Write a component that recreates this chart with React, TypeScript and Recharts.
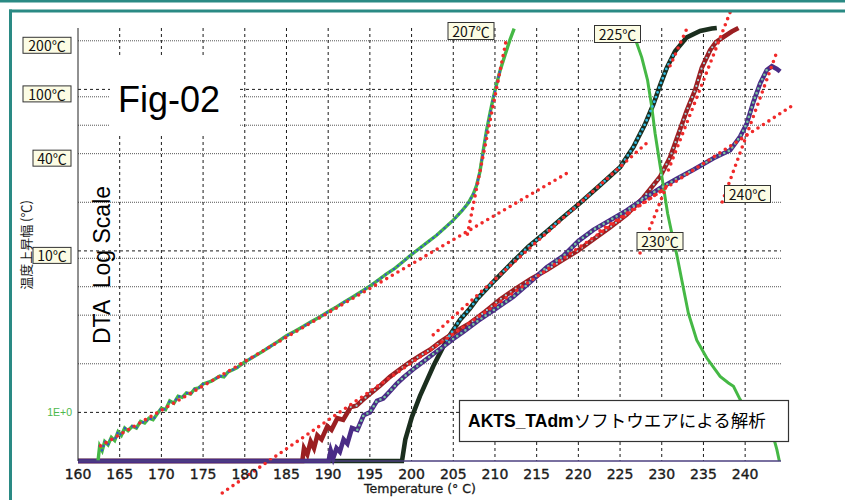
import { LineChart, Line, XAxis, YAxis, CartesianGrid, ReferenceLine } from 'recharts'

// temperature (°C) vs DTA temperature rise (°C, log)
const greenRise = [
  [162.4,0.5],[162.6,0.62],[162.9,0.58],[163.2,0.66],[163.6,0.63],[164.0,0.7],[164.4,0.67],[164.8,0.76],
  [165.2,0.72],[165.6,0.8],[166.0,0.77],[166.5,0.82],[167.0,0.8],[167.5,0.88],[168.0,0.86],[168.5,0.92],
  [169.0,0.9],[169.5,0.98],[170.0,1.06],[170.5,1.04],[171.0,1.18],[171.5,1.14],[172.0,1.26],[172.5,1.24],
  [173.0,1.32],[173.5,1.3],[174.0,1.4],[174.5,1.42],[175.0,1.5],[176.0,1.56],[177.0,1.68],[177.5,1.66],
  [178.0,1.78],[179.0,1.88],[180.0,2.05],[181.0,2.2],[182.0,2.36],[183.0,2.55],[184.0,2.75],[185.0,2.98],
  [186.0,3.18],[187.0,3.4],[188.0,3.65],[189.0,3.9],[190.0,4.2],[191.0,4.5],[192.0,4.85],[193.0,5.2],
  [194.0,5.6],[195.0,6.05],[196.0,6.6],[197.0,7.2],[198.0,7.8],[199.0,8.6],[200.0,9.5],[201.0,10.4],
  [202.0,11.4],[203.0,12.5],[204.0,13.9],[205.0,15.5],[206.0,17.6],[206.8,19.8],[207.4,22.5],[207.8,25.5],
  [208.2,31],[208.6,42],[209.0,56],[209.4,71],[209.8,89],[210.2,108],[210.6,130],[211.2,163],[211.8,203],[212.3,238],
]

const greenFall = [
  [226.3,240],[226.9,200],[227.6,158],[228.3,114],[228.8,78],[229.2,53.5],[229.7,36.6],[230.2,25],
  [230.7,17.1],[231.2,12.9],[231.8,9.5],[232.4,6.6],[233.2,4.1],[234.2,2.8],[235.4,2.17],[237.0,1.67],
  [238.0,1.52],[238.6,1.45],[239.4,1.2],[240.5,0.98],[241.5,0.85],[242.5,0.76],[243.4,0.7],[243.8,0.59],[244.1,0.5],
]

const blackRun = [
  [160,0.5],[198.85,0.5],[199.25,0.68],[200.05,0.94],[201.0,1.26],[202.6,1.93],[204.2,2.8],[205.8,3.74],
  [207.0,4.4],[207.8,5.0],[210,6.6],[212.2,8.6],[214,10.6],[216.2,13.2],[218,15.9],[220.2,19.8],[222.6,25.5],
  [225,33],[226.6,44],[228,61],[229,81],[229.8,106],[230.6,136],[231.6,172],[233,210],[234.6,230],[236,238],[236.6,240],
]

const redRun = [
  [160,0.5],[186.9,0.5],[187.1,0.6],[187.5,0.55],[187.9,0.66],[188.3,0.6],[188.7,0.72],[189.2,0.68],
  [189.9,0.82],[190.4,0.78],[191.1,0.92],[191.8,0.9],[192.7,1.08],[193.4,1.1],[194.2,1.2],[195.0,1.3],
  [196.2,1.46],[197.4,1.66],[198.6,1.85],[199.8,2.05],[201,2.24],[202.2,2.44],[203.4,2.72],[204.6,3.0],
  [205.8,3.28],[207,3.57],[208.8,4.2],[210.6,5.0],[212.4,5.8],[214.3,6.7],[216.2,7.6],[218,8.7],[219.9,10],
  [221.8,11.8],[223.8,14],[225.8,16.8],[227.8,21.4],[229.8,28.8],[231,38],[232,53],[233,74],[234,99],
  [234.8,136],[235.8,175],[236.5,196],[237.4,211],[238.4,228],[239.2,240],
]

const purpleRun = [
  [160,0.5],[190.05,0.5],[190.3,0.58],[190.6,0.52],[191.0,0.6],[191.4,0.57],[191.85,0.68],[192.3,0.64],
  [192.85,0.8],[193.5,0.78],[194.25,0.96],[195.0,1.0],[195.85,1.18],[196.6,1.22],[197.45,1.36],[198.2,1.5],
  [199.05,1.65],[200.2,1.85],[201.45,2.07],[202.6,2.3],[203.8,2.55],[205,2.85],[206.2,3.15],[208,3.7],
  [210,4.35],[212.2,5.2],[214.2,6.4],[216.2,7.9],[218.2,9.3],[220,11.5],[221.8,13.5],[223.8,15.5],
  [225.8,17.8],[227.8,21],[229.8,24.4],[231.8,28],[233.8,31.8],[236.2,37.5],[238.2,42],[239.4,51],
  [240.2,61.5],[241,84],[241.8,109],[242.6,132],[243.2,139],[243.8,134],[244.2,129],
]

// red dotted tangent lines: [t1, v1, t2, v2]
const tangents = [
  [162.7,0.62,218.6,30.2],
  [177.3,0.317,230.1,23.8],
  [202.6,3.02,228.6,48.6],
  [206.7,12.7,211.4,208],
  [227.4,9.7,230.7,26.3],
  [230.8,31.7,238.2,300],
  [231.0,140,233.2,250],
  [237.25,20.1,243.85,173],
  [222.6,13.3,245.6,79],
]

const xTicks = [160,165,170,175,180,185,190,195,200,205,210,215,220,225,230,235,240]
const xGrid = xTicks.slice(1)
const yTicks = [1,10,40,100,200]
const majorGridY = [1,10,100]
const minorGridY = [2,3,4,5,6,7,8,9,20,30,40,50,60,70,80,90,200]

const pts = (arr: number[][]) => arr.map(([t, v]) => ({ t, v }))
const between = (arr: number[][], a: number, b: number) => pts(arr.filter(([t]) => t >= a && t <= b))

const JP = "'Noto Sans CJK JP', sans-serif"

function YTick({ x, y, payload }: any) {
  const v = payload.value
  if (v === 1) {
    return <text x={x - 6} y={y} textAnchor="end" dominantBaseline="central" fontSize={10.5} fill="#4cb84c" fontFamily="Liberation Sans">1E+0</text>
  }
  const w = v >= 100 ? 48 : 38
  return (
    <g>
      <rect x={x - 7 - w} y={y - 3.5} width={w} height={16} fill="#fcfce4" stroke="#333" />
      <text x={x - 7 - w / 2} y={y + 4.5} textAnchor="middle" dominantBaseline="central" fontSize={14} fill="#111" fontFamily={JP}>{v}℃</text>
    </g>
  )
}

function TagBox({ cx, cy, text }: { cx: number; cy: number; text: string }) {
  return (
    <g>
      <rect x={cx - 23} y={cy - 8.5} width={46} height={17} fill="#fcfce4" stroke="#333" />
      <text x={cx} y={cy} textAnchor="middle" dominantBaseline="central" fontSize={14} fill="#111" fontFamily={JP}>{text}</text>
    </g>
  )
}

export default function App() {
  const dotted = { strokeLinecap: 'round' as const, isAnimationActive: false, dot: false, activeDot: false }
  return (
    <div style={{ position: 'absolute', left: 0, top: 0, width: 845, height: 500, background: '#fff' }}>
      <LineChart width={845} height={500} margin={{ top: 28, right: 64, bottom: 0, left: 18 }}>
        <CartesianGrid horizontalValues={minorGridY} vertical={false} stroke="#555" strokeDasharray="1 1" />
        <CartesianGrid horizontalValues={majorGridY} verticalValues={xGrid} stroke="#1a1a1a" strokeDasharray="3 3" />
        <XAxis type="number" dataKey="t" domain={[160, 244.3]} ticks={xTicks} height={39} tickLine={false}
          axisLine={{ stroke: '#4d4080', strokeWidth: 1.5 }}
          tick={{ fontSize: 14, fill: '#1a1a1a', stroke: '#1a1a1a', strokeWidth: 0.35, fontFamily: 'DejaVu Sans' }} />
        <YAxis type="number" dataKey="v" scale="log" domain={[0.5, 240]} ticks={yTicks} width={60}
          tickSize={0} tickMargin={0} tickLine={false} axisLine={{ stroke: '#222' }} tick={<YTick />} />

        <Line data={pts(blackRun)} dataKey="v" stroke="#1b2e1e" strokeWidth={4.6} dot={false} isAnimationActive={false} />
        <Line data={pts(redRun)} dataKey="v" stroke="#9b1f22" strokeWidth={4.6} dot={false} isAnimationActive={false} />
        <Line data={pts(purpleRun)} dataKey="v" stroke="#4a2c86" strokeWidth={4.6} dot={false} isAnimationActive={false} />
        <Line data={pts(greenRise)} dataKey="v" stroke="#45b845" strokeWidth={3.4} dot={false} isAnimationActive={false} />
        <Line data={pts(greenFall)} dataKey="v" stroke="#45b845" strokeWidth={3} dot={false} isAnimationActive={false} />

        <Line data={between(greenRise, 162.6, 210.6)} dataKey="v" stroke="#3a4fd0" strokeWidth={2.4} strokeDasharray="0 5" {...dotted} />
        <Line data={between(blackRun, 203, 232)} dataKey="v" stroke="#35bde6" strokeWidth={2.8} strokeDasharray="0 5" {...dotted} />
        <Line data={between(redRun, 192, 238)} dataKey="v" stroke="#9fd6dc" strokeWidth={2.2} strokeDasharray="0 6" {...dotted} />
        <Line data={between(purpleRun, 193, 243)} dataKey="v" stroke="#78c8a0" strokeWidth={2.6} strokeDasharray="0 5" {...dotted} />

        {tangents.map(([t1, v1, t2, v2], i) => (
          <ReferenceLine key={i} segment={[{ x: t1, y: v1 }, { x: t2, y: v2 }]} ifOverflow="visible"
            stroke="#f02a2a" strokeWidth={3.6} strokeDasharray="0 6.5" strokeLinecap="round" />
        ))}
      </LineChart>

      <svg width={845} height={500} style={{ position: 'absolute', left: 0, top: 0, pointerEvents: 'none' }}>
        <rect x={0} y={0} width={845} height={2.5} fill="#2a8a84" />
        <rect x={9} y={9.5} width={836} height={3} fill="#2a8a84" />
        <rect x={9} y={9.5} width={3} height={491} fill="#2a8a84" />

        <text transform="translate(25,245) rotate(-90)" textAnchor="middle" dominantBaseline="central" fontSize={13} fill="#1a1a1a" fontFamily={JP}>温度上昇幅 (℃)</text>
        <text transform="translate(110,265) rotate(-90)" textAnchor="middle" fontSize={23} fill="#000" fontFamily="Liberation Sans" style={{ whiteSpace: 'pre' }}>DTA  Log Scale</text>

        <rect x={110} y={57} width={130} height={79} fill="#fff" />
        <text x={118} y={112} fontSize={36} fill="#000" fontFamily="Liberation Sans">Fig-02</text>

        <TagBox cx={471} cy={31} text="207℃" />
        <TagBox cx={617.5} cy={34} text="225℃" />
        <TagBox cx={747.5} cy={194} text="240℃" />
        <TagBox cx={660} cy={241} text="230℃" />

        <rect x={459.5} y={400.5} width={329} height={41} fill="#fff" stroke="#333" strokeWidth={1.2} />
        <text x={468} y={427} fontSize={17.5} fill="#000" fontFamily={JP}>
          <tspan fontWeight="bold" fontFamily="Liberation Sans">AKTS_TAdm</tspan><tspan>ソフトウエアによる解析</tspan>
        </text>

        <text x={420} y={493} textAnchor="middle" fontSize={12.5} fill="#1a1a1a" stroke="#1a1a1a" strokeWidth={0.3} fontFamily="DejaVu Sans">Temperature (° C)</text>
      </svg>
    </div>
  )
}
